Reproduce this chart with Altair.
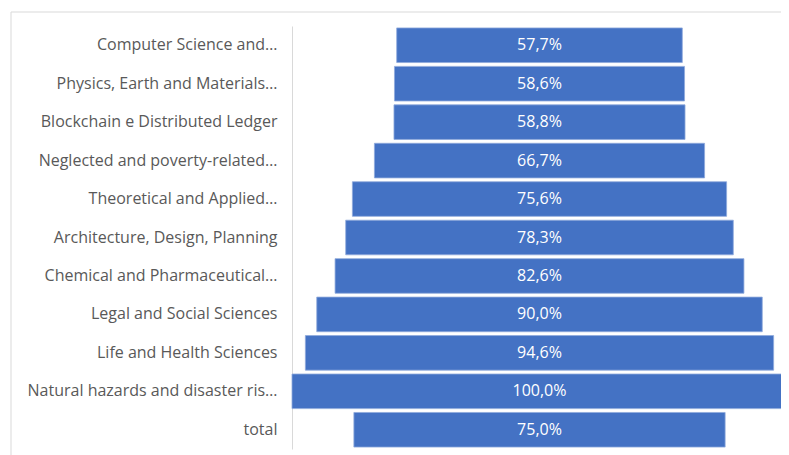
import altair as alt
import pandas as pd

courses = [
    "Computer Science and…",
    "Physics, Earth and Materials…",
    "Blockchain e Distributed Ledger",
    "Neglected and poverty-related…",
    "Theoretical and Applied…",
    "Architecture, Design, Planning",
    "Chemical and Pharmaceutical…",
    "Legal and Social Sciences",
    "Life and Health Sciences",
    "Natural hazards and disaster ris…",
    "total",
]
values = [57.7, 58.6, 58.8, 66.7, 75.6, 78.3, 82.6, 90.0, 94.6, 100.0, 75.0]
labels = [f"{v:.1f}".replace(".", ",") + "%" for v in values]

df = pd.DataFrame({"course": courses, "value": values, "label": labels})
df["lo"] = -df["value"] / 2
df["hi"] = df["value"] / 2

FULL_W = 495          # pixel width of a 100% bar
W, H = 489, 423       # visible plot area (the 100% bar runs to the page edge)
PX = FULL_W / 100.0
xscale = alt.Scale(domain=[-50, W / PX - 50])
FONT = "Open Sans"

yenc = alt.Y(
    "course:N",
    sort=courses,
    scale=alt.Scale(paddingInner=0.1, paddingOuter=0.05),
    axis=alt.Axis(
        title=None, ticks=False, grid=False, domainColor="#d9d9d9", domainWidth=1,
        labelFont=FONT, labelFontSize=16, labelColor="#595959", labelPadding=15,
        labelLimit=0,
    ),
)

frame = alt.Chart(pd.DataFrame({"f": [0]})).mark_rect(
    fill="transparent", stroke="#d9d9d9", strokeWidth=1
).encode(x=alt.value(-281), x2=alt.value(W + 30), y=alt.value(-14), y2=alt.value(H + 30))

bars = alt.Chart(df).mark_bar(color="#4472C4", stroke="#8FAADC", strokeWidth=0.8).encode(
    y=yenc,
    x=alt.X("lo:Q", scale=xscale, axis=None),
    x2="hi:Q",
)

text = alt.Chart(df).mark_text(color="white", font=FONT, fontSize=16).encode(
    y=alt.Y("course:N", sort=courses),
    x=alt.X("mid:Q", scale=xscale, axis=None),
    text="label:N",
).transform_calculate(mid="0")

title_text = "Graph 1." + "\u00a0" * 14 + "Percentage of respondents by PhD course"

chart = alt.layer(frame, bars, text).properties(
    width=W,
    height=H,
    autosize=alt.AutoSizeParams(type="none"),
    padding={"left": 284, "top": 18, "right": 0, "bottom": 6},
    title=alt.TitleParams(
        text=title_text, anchor="start", frame="group", dx=-229, offset=16,
        baseline="alphabetic", font=FONT, fontSize=22, fontWeight="normal", color="black",
    ),
).configure_view(stroke=None)

chart.save("out.html", embed_options={"renderer": "svg", "actions": False})
